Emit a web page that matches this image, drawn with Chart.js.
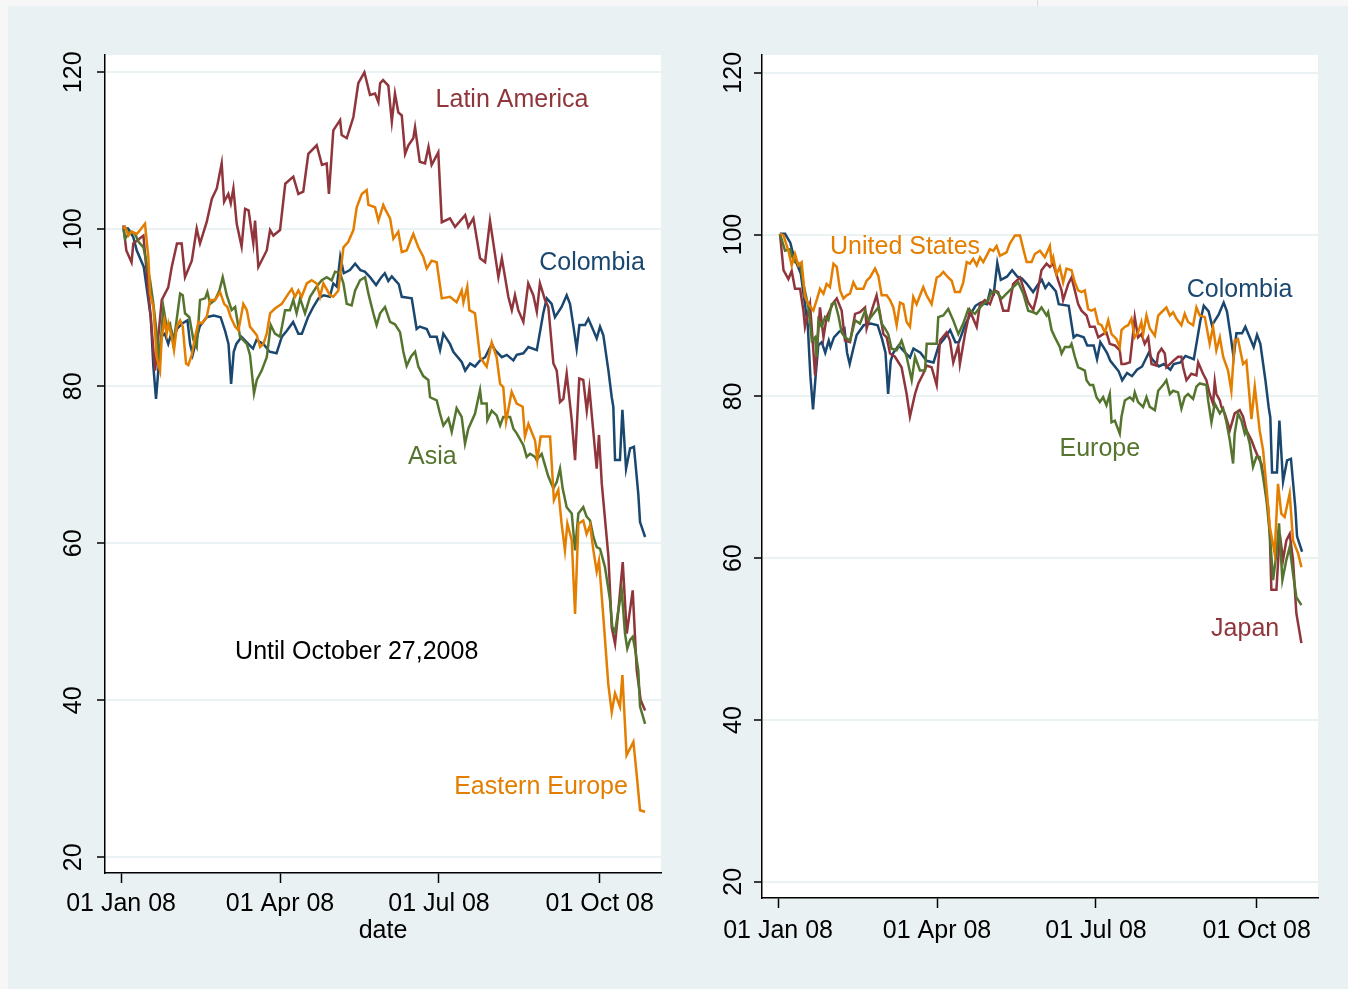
<!DOCTYPE html>
<html>
<head>
<meta charset="utf-8">
<script src="https://cdn.jsdelivr.net/npm/chart.js@4.4.0/dist/chart.umd.min.js"></script>
<style>
  body { margin: 0; background: #f7f7f7; overflow: hidden; }
  #bg { position: absolute; left: 8px; top: 6px; width: 1340px; height: 983px; background: #eaf1f3; }
  #seam { position: absolute; left: 1037px; top: 0; width: 1px; height: 6px; background: #dcdcdc; }
  .box { position: absolute; top: 0; height: 989px; }
  #leftBox { left: 0; width: 690px; }
  #rightBox { left: 690px; width: 658px; }
</style>
</head>
<body>
<div id="bg"></div>
<div id="seam"></div>
<div class="box" id="leftBox"><canvas id="leftChart"></canvas></div>
<div class="box" id="rightBox"><canvas id="rightChart"></canvas></div>
<script>
// days counted from 01 Jan 2008, index = 100 at the start of the year
const tickDays = [0, 91, 182, 274];
const tickLabels = ['01 Jan 08', '01 Apr 08', '01 Jul 08', '01 Oct 08'];
const yTicks = [20, 40, 60, 80, 100, 120];

const colombia = [
  [1,100.1],[4,100.1],[7,99.0],[9,97.3],[13,95.2],[17,88.8],[18.5,82.5],[20,78.4],[21.5,82.5],[23,86.3],
  [25,86.7],[27,85.4],[29,86.9],[30,86.1],[32,87.3],[35,88.0],[38,88.4],[39.5,85.4],[41,84.0],[42.5,85.4],
  [45,87.6],[49,88.8],[53,89.0],[57,88.8],[59.5,87.1],[61.5,85.4],[63,80.3],[64.5,84.4],[66,85.4],[69,86.3],
  [72,85.6],[75.5,84.8],[77.5,85.9],[81.5,85.4],[85,84.4],[89,84.2],[92,86.3],[95,87.1],[98.5,88.2],[101.5,86.7],
  [103.5,86.7],[107,88.8],[110,90.1],[113,91.2],[116,91.6],[119.5,91.4],[121.5,93.1],[123.5,92.7],[125.5,96.5],[127.5,94.4],
  [131,94.8],[134,95.6],[137,94.8],[139.5,94.6],[142.5,93.9],[146,92.9],[149,93.9],[151,94.4],[153,93.4],[155,94.0],
  [157,93.5],[159,93.0],[160.7,91.4],[166.4,91.2],[169.2,87.3],[171,87.6],[175,87.3],[177,86.3],[180.7,86.3],[182.6,84.6],
  [184.5,86.7],[188.3,85.4],[190.2,84.4],[195,83.1],[197,82.0],[199.8,82.9],[202.6,82.5],[205.5,83.3],[208.4,83.7],[212.2,85.4],
  [214.1,84.6],[218,83.7],[220.8,84.0],[224.6,83.3],[226.5,84.0],[230.3,84.2],[233.2,85.0],[238,84.6],[241.7,89.3],[243.7,91.2],
  [246.5,90.5],[248.4,88.8],[252.2,90.1],[255.1,91.6],[257,90.5],[259,87.6],[260.8,84.8],[262.4,87.8],[265.6,87.8],[267.5,88.6],
  [270.4,87.1],[272.3,86.1],[274.2,87.6],[276.1,86.5],[279,82.0],[280.9,78.6],[281.8,77.4],[282.8,70.6],[285.6,70.6],[287,77.0],
  [289.1,69.5],[291.4,72.1],[293.6,72.3],[296.1,66.3],[297.1,62.7],[300,60.8]
];

const latinAmerica = [
  [1.3,100.5],[3,97.3],[6,95.8],[7,98.2],[12.8,99.2],[16.6,89.7],[19.5,82],[23.3,91],[27,92.6],[29,95.2],
  [32,98.2],[34.7,98.2],[36.6,93.9],[40.5,96],[43.3,100.1],[45.2,98.2],[49,100.9],[52,103.9],[54.8,105.2],[57.6,108.4],
  [59,103.5],[61.4,104.5],[62.8,103.3],[64.3,105.2],[66.2,100.7],[69,97.8],[71,102.6],[73,102.4],[75.7,98.2],[76.7,101.1],
  [78.6,95.2],[83.4,97.3],[85.3,99.9],[87.2,99.2],[91,99.9],[94,105.8],[98.6,106.7],[101.5,104.5],[104.3,104.8],[107.2,109.6],
  [112,110.7],[115,108.2],[117.7,108.4],[119,104.5],[121.5,112.6],[125.4,113.9],[126.3,112],[129.2,111.6],[133,114.3],[135.8,118.6],
  [139.3,120],[142.5,117.1],[145.4,117.3],[147.3,116.2],[148.3,118.6],[150,119],[153,118.3],[155,113.7],[156.8,117.3],[158.7,114.9],
  [160.7,114.5],[162.6,109.6],[164.5,110.7],[167.3,111.6],[168.3,113],[171,108.6],[174,108.4],[176,110.5],[177.8,108.2],[181.6,109.8],
  [183.6,100.9],[188.3,101.4],[191.2,100.3],[197,101.8],[198.8,100.3],[201.7,101.4],[205.5,96.3],[208.4,95.8],[211.2,101.1],[216,93.9],
  [218,96.3],[221.7,91.4],[223.7,89.7],[225.5,91.6],[227.4,89.7],[230.3,88.2],[233.1,93.1],[236,91.6],[238,89.5],[239.8,93.1],
  [242.7,91],[244.6,90.1],[247.5,82.9],[249.4,82],[251.3,78],[253.2,78.4],[255.1,81.6],[258,75.7],[259.9,70.6],[262.3,81],
  [264.6,80.8],[266.6,76.9],[268.1,79.7],[272.3,69.5],[273.6,73.8],[275.2,67.6],[279,58.3],[280.9,49.3],[282.8,47.2],[284.7,51.5],
  [287.2,57.6],[289.5,48.5],[292.9,54],[295.2,43.8],[297.5,40],[300,38.7]
];

const asia = [
  [1.3,100.1],[2.3,98.8],[5.2,99.7],[8,99.4],[10,98.4],[12.8,97.7],[16.6,93.5],[18.5,90.5],[20.4,86.7],[22,83.3],
  [24.2,90.1],[26.1,87.6],[28,88],[30,85.4],[33.8,91.8],[35.3,91.6],[36.6,89.3],[39.1,88.8],[41.4,85.9],[43.3,85],
  [45.2,91],[48.1,91.2],[49.4,92],[51,90.5],[53.8,91],[56.3,92.2],[58.2,93.9],[60.5,91.6],[63.3,89.7],[65.3,90.1],
  [68.1,86.3],[72,85.4],[73.8,84],[76.1,79.1],[77.7,80.8],[80.5,82],[83.4,83.7],[85.7,87.8],[88.1,86.7],[91,86.3],
  [93.9,89.7],[96.7,89.7],[98.6,91],[100.5,89.3],[102.5,91.2],[105.3,89.3],[108.2,91.4],[112,92.7],[114.9,93.5],[117.7,93.9],
  [120.6,93.5],[122.5,94.6],[125.4,94.4],[127.3,93.1],[129.2,90.5],[132,90.3],[134,92.2],[136.8,93.5],[139.7,93.9],[141.6,91.8],
  [144.4,89.3],[146.3,87.8],[148.3,89.3],[151.1,90.1],[154,88.2],[156.8,87.9],[159.7,86.9],[161.6,84.4],[163.5,82.6],[166,83.8],
  [168.3,84.4],[170.2,82.5],[173,81.3],[175.9,80.8],[176.9,78.6],[180.7,78.2],[182.6,76.5],[184.5,75.0],[187.4,75.9],[189.3,74.2],
  [192.1,77.2],[195,76.1],[196.9,72.7],[198.8,74.6],[202.6,76.5],[205.5,79.5],[206.4,77.8],[209.3,77.8],[209.7,75.7],[212.2,76.9],
  [215,76.3],[217,75.0],[218.8,76.1],[222.7,76.1],[224.6,74.6],[226.5,74.0],[230.3,72.5],[232.2,71.0],[234.1,71.4],[237,71.0],
  [237.9,70.6],[240.8,71.4],[244.6,68.5],[247.5,67.0],[249.4,67.8],[251.3,69.5],[252.8,67.0],[255.1,64.6],[258,63.8],[259.9,59.1],
  [261.8,63.8],[264.6,64.6],[266.5,63.4],[268.5,62.9],[270.4,60.8],[272.3,59.5],[274.2,59.3],[277,57.0],[279.9,52.8],[281.2,49.4],
  [282.8,48.7],[284.7,51.5],[286.6,54.0],[288.5,48.5],[289.8,46.6],[291.4,47.7],[292.9,48.1],[294.2,46.6],[296.1,43.8],[297.1,39.2],
  [300,37.0]
];

const easternEurope = [
  [1.3,100.1],[2.3,100.3],[4.2,99.2],[6.1,99.7],[9,99.4],[10.9,99.9],[13.7,100.7],[15.6,96.5],[16.6,91.8],[18.5,90.1],
  [20.4,83.7],[22.3,82.0],[23.3,86.3],[24.8,88.4],[26.1,86.7],[27.1,88.0],[29,86.3],[30.3,84.6],[31.9,87.6],[33.8,88.4],
  [35.3,87.6],[37.2,82.9],[38.5,82.7],[40.5,84.0],[42.4,86.3],[44.3,88.2],[46.2,88.0],[49,88.8],[51,91.0],[53.8,91.0],
  [56.7,92.0],[59,90.5],[60.9,90.1],[62.8,88.8],[65.3,87.6],[67.2,87.1],[70,90.5],[72,89.7],[73.8,87.6],[77.7,86.5],
  [79.6,85.0],[81.5,85.4],[83.4,86.7],[85.3,89.3],[88.1,89.9],[92,90.5],[95.8,91.8],[97.7,92.4],[99.6,91.4],[101.5,92.2],
  [103.4,91.4],[106.3,93.1],[109.1,93.5],[112,93.1],[113.9,91.4],[115.8,93.1],[119.6,91.6],[121.5,91.4],[124.4,92.2],[127.3,97.7],
  [130.1,98.4],[133,99.9],[134.9,102.8],[137.8,104.5],[140.6,105.0],[141.6,103.1],[145.4,102.8],[147.3,101.1],[150.1,103.1],[151.1,102.6],
  [154,101.4],[155.9,98.8],[158.7,99.7],[160.7,97.1],[163.5,97.3],[167.3,99.4],[170.2,97.7],[173,96.5],[175,95.0],[177.8,96.0],
  [180.7,95.8],[183.6,91.2],[188.3,91.4],[192.1,90.7],[195,92.2],[196,90.7],[198.2,92.7],[199.4,89.7],[202.6,89.3],[205.5,83.7],
  [209.3,82.5],[212.2,85.6],[215,83.7],[217,80.3],[218.8,79.9],[220.4,75.5],[223.6,79.3],[226.5,77.8],[229.9,77.4],[231.2,73.6],
  [233.2,75.2],[237,73.1],[238.3,70.6],[240.2,73.6],[245.6,73.6],[247.8,65.5],[250.3,66.8],[252.2,62.5],[254.1,59.1],[255.5,62.5],
  [258,60.4],[259.9,51.0],[261.8,62.5],[264.6,62.9],[266.5,61.2],[268.5,62.3],[270.4,59.1],[272.3,56.4],[273.6,57.8],[276.1,50.6],
  [278.9,42.1],[280.9,38.5],[282.8,40.9],[285.6,39.2],[287,43.2],[289.4,33.0],[293.3,34.7],[295.2,30.5],[297.1,26.0],[300,25.8]
];

const japan = [
  [1.1,100.1],[3.1,95.6],[5.9,94.5],[7.8,95.5],[9.7,93.3],[12.6,93.3],[14.5,90.6],[15.4,88.6],[18.3,91.4],[21.2,82.6],
  [24,91.0],[26,87.3],[27.8,89.8],[31.7,91.6],[33.6,92.1],[36.4,90.6],[38.3,86.9],[41.2,86.7],[44.1,90.2],[46.9,90.4],
  [49.8,91.0],[50.7,88.4],[53.6,90.6],[56.4,92.5],[58.4,90.2],[60.3,87.7],[62.2,87.3],[64.1,85.3],[66.9,84.9],[70.7,83.6],
  [73.6,80.3],[75.5,77.5],[78.4,80.3],[80.3,81.6],[83.1,82.8],[85,83.8],[87.9,83.6],[90.8,81.4],[92.7,86.9],[96.5,87.9],
  [98.4,86.9],[100.3,84.2],[103.2,86.3],[104.1,84.0],[107,87.7],[109.8,90.6],[113.7,88.6],[115.6,91.4],[118.4,91.9],[121.3,91.4],
  [124.1,93.1],[126,92.9],[128.9,90.6],[131.8,90.6],[134.6,93.9],[138.5,94.7],[143.2,91.6],[146.1,90.7],[148,92.3],[150.8,95.6],
  [153.7,96.4],[155.6,96.0],[157.5,96.4],[160.4,94.3],[162.3,93.1],[163.2,91.9],[166.1,93.9],[168,94.7],[169.9,93.1],[171.8,91.4],
  [173.7,90.6],[176.6,90.0],[178.5,88.6],[181.3,88.6],[183.3,87.3],[186.1,87.7],[188,87.9],[189.9,86.5],[192.8,86.3],[195.6,85.7],
  [196.6,84.0],[198.5,84.0],[201.4,84.2],[203.3,87.9],[204.2,89.8],[206.1,87.3],[208,87.7],[209.9,86.5],[211.9,87.3],[213.8,84.0],
  [216.6,83.8],[217.6,85.3],[219.5,85.9],[221.4,85.3],[222.3,83.6],[224.3,84.0],[226.2,84.4],[229,84.9],[230.9,84.9],[231.9,83.6],
  [233.8,82.0],[236.6,82.8],[239.5,82.6],[240.5,84.2],[243.3,82.8],[245.2,82.0],[247.1,80.3],[249,79.1],[250,81.8],[250.9,80.3],
  [252.9,79.5],[253.8,78.7],[255.7,77.9],[257.6,76.6],[258.6,75.8],[261.4,77.9],[264.3,78.3],[266.2,77.5],[268.1,75.8],[271,74.6],
  [272.9,73.5],[274.8,72.5],[276.7,71.7],[278.6,69.2],[280.5,66.3],[281.5,63.0],[282.4,56.1],[285.3,56.1],[287.2,63.0],[289.1,59.8],
  [291,62.2],[292.9,63.0],[294.8,59.8],[296.7,53.2],[299.6,49.5]
];

const europe = [
  [1.1,100.1],[4,98.0],[6.9,98.2],[7.8,97.4],[9.7,96.6],[12.6,96.4],[14.5,93.9],[17.4,91.0],[19.3,86.9],[21.2,87.3],
  [22.1,84.9],[23.1,89.4],[25,88.6],[26.9,89.8],[28.8,89.4],[30.7,91.4],[32.6,91.6],[34.5,90.0],[36.4,87.9],[38.3,87.3],
  [41.2,86.9],[44.1,89.4],[46.9,89.0],[49.8,90.6],[51.7,89.4],[54.5,90.2],[57.4,91.0],[59.3,89.0],[61.2,88.4],[63.1,87.7],
  [65,85.9],[67.9,85.7],[70.7,86.9],[73.6,84.9],[76.5,82.0],[78.4,84.9],[81.2,83.2],[84.1,83.2],[85.1,86.5],[88.9,86.5],
  [90.8,86.5],[91.7,89.8],[94.6,90.0],[97.4,90.8],[100.3,89.4],[103.2,87.7],[106,89.0],[108.9,90.8],[112.7,90.2],[115.6,91.0],
  [117.5,91.4],[120.3,91.9],[122.2,92.9],[125.1,92.9],[128,92.1],[130.8,92.7],[134.6,93.5],[137.5,94.1],[140.4,92.7],[143.2,90.6],
  [146.1,90.4],[148,90.2],[150.8,91.0],[153.7,90.0],[154.6,90.4],[156.6,88.2],[158.5,87.3],[161.3,86.1],[162.3,85.3],[164.2,86.1],
  [167,86.1],[168,86.5],[169.9,84.9],[171.8,83.6],[173.7,83.4],[175.6,83.2],[176.6,82.0],[178.5,81.4],[180.4,81.4],[182.3,79.9],
  [184.2,79.3],[186.1,79.9],[188,78.9],[189.9,80.3],[190.9,76.8],[192.8,77.0],[195.6,75.4],[196.6,77.5],[198.5,79.5],[201.4,79.9],
  [203.3,79.5],[204.2,80.5],[206.1,79.3],[209,78.7],[210.9,79.9],[212.8,78.7],[215.7,78.3],[217.6,80.7],[220.4,81.4],[222.3,82.0],
  [224.3,80.3],[226.2,80.7],[229,80.5],[230.9,78.5],[232.8,79.9],[234.7,80.3],[237.6,79.7],[239.5,81.2],[241.4,81.6],[245.2,81.4],
  [246.2,79.5],[248.1,76.8],[250,79.1],[252.9,77.9],[254.8,78.5],[256.7,76.8],[258.6,74.6],[260.5,71.7],[261.4,75.4],[263.3,77.9],
  [265.3,77.0],[267.2,75.4],[268.1,75.8],[270,74.2],[271.9,71.3],[273.8,72.5],[275.7,72.5],[277.7,70.0],[279.6,67.2],[281.5,63.0],
  [283.4,57.3],[285.3,60.6],[286.8,64.3],[288.7,57.3],[291,59.8],[292.9,61.4],[294.8,58.1],[296.7,55.2],[299.6,54.2]
];

const unitedStates = [
  [1.1,100.1],[3.1,99.9],[5.9,98.0],[7.8,96.2],[9.7,97.6],[11.6,96.2],[13.5,96.6],[15.4,92.3],[17.4,91.4],[20.2,90.6],
  [22.1,91.9],[24,93.3],[26,92.7],[27.8,93.9],[29.7,93.5],[31.7,96.4],[33.6,96.0],[35.5,93.1],[37.4,92.1],[39.3,92.5],
  [41.2,92.7],[43.1,94.1],[45,93.3],[48.8,93.3],[50.7,94.3],[52.6,94.7],[55.5,95.8],[57.4,94.9],[59.3,92.5],[62.2,92.5],
  [64.1,91.9],[66,91.0],[67.9,88.8],[69.8,91.6],[71.7,91.4],[73.6,89.2],[75.5,88.6],[77.4,92.3],[79.3,91.4],[83.1,93.5],
  [85,92.5],[87.9,91.4],[90.8,94.7],[92.7,94.9],[94.6,95.4],[97.4,94.7],[99.4,94.3],[101.3,92.9],[104.1,92.9],[106,94.1],
  [108,96.6],[109.8,96.4],[111.7,97.0],[113.7,96.2],[115.6,97.2],[117.5,96.6],[121.3,98.2],[123.2,98.0],[125.1,98.6],[127,97.4],
  [128.9,97.6],[130.8,97.8],[132.7,98.9],[135.6,99.9],[138.5,99.9],[140.4,98.2],[142.3,96.6],[145.1,96.6],[147,97.6],[149.9,98.0],
  [152.7,97.2],[155.6,98.6],[156.6,96.6],[157.5,97.2],[159.4,95.1],[161.3,96.0],[163.2,94.1],[165.1,95.8],[168,95.6],[169.9,94.1],
  [171.8,93.1],[173.7,92.9],[175.6,93.1],[177.5,90.8],[179.4,90.6],[181.3,90.8],[183.3,89.0],[185.2,88.8],[187.1,87.9],[189,89.4],
  [190.9,87.7],[193.7,87.1],[195.6,86.1],[196.6,88.2],[198.5,88.6],[200.4,88.8],[202.3,89.6],[204.2,87.3],[206.1,87.9],[208,89.2],
  [209,87.7],[210.9,90.0],[212.8,88.4],[215.7,87.5],[217.6,90.0],[219.5,90.4],[222.3,91.0],[224.3,90.0],[226.2,90.4],[228.1,89.6],
  [230.9,88.8],[232.8,90.2],[234.7,89.2],[237.6,88.8],[239.5,91.0],[241.4,90.0],[244.3,89.8],[247.1,86.5],[249,88.6],[250.9,85.7],
  [252.9,87.3],[254.8,84.9],[257.6,83.2],[259.5,80.7],[261.4,86.9],[263.3,87.1],[266.2,84.0],[268.1,84.4],[271,77.2],[272.9,81.2],
  [275.7,75.8],[277.7,73.3],[279.6,68.8],[281.5,63.9],[284.3,60.6],[286.2,69.2],[288.1,65.5],[290,65.1],[292.9,68.0],[294.8,62.2],
  [297.7,60.6],[299.6,58.9]
];

// text placed inside each panel, at [day, index]
const leftNotes = [
  { text: 'Latin America', at: [223.8, 116.4], color: '#90353b' },
  { text: 'Colombia', at: [269.6, 95.7], color: '#1a476f' },
  { text: 'Asia', at: [178.2, 71.0], color: '#55752f' },
  { text: 'Eastern Europe', at: [240.4, 29.0], color: '#e37e00' },
  { text: 'Until October 27,2008', at: [134.9, 46.2], color: '#000000' }
];
const rightNotes = [
  { text: 'United States', at: [72.7, 98.5], color: '#e37e00' },
  { text: 'Colombia', at: [264.2, 93.2], color: '#1a476f' },
  { text: 'Europe', at: [184.2, 73.5], color: '#55752f' },
  { text: 'Japan', at: [267.4, 51.2], color: '#90353b' }
];

const FONT = '"Liberation Sans", Arial, sans-serif';

const panelPlugin = {
  id: 'panel',
  beforeDraw(chart) {
    const a = chart.chartArea, ctx = chart.ctx;
    ctx.save();
    ctx.fillStyle = '#ffffff';
    ctx.fillRect(a.left, a.top, a.right - a.left, a.bottom - a.top);
    ctx.restore();
  },
  afterDraw(chart, args, opts) {
    const ctx = chart.ctx, xs = chart.scales.x, ys = chart.scales.y;
    ctx.save();
    ctx.font = '25px ' + FONT;
    ctx.textAlign = 'center';
    ctx.textBaseline = 'middle';
    // y labels read upwards, like the x labels turned on their side
    ctx.fillStyle = '#000';
    ys.ticks.forEach(t => {
      ctx.save();
      ctx.translate(ys.right - opts.yLabelGap, ys.getPixelForValue(t.value));
      ctx.rotate(-Math.PI / 2);
      ctx.fillText(String(t.value), 0, 1);
      ctx.restore();
    });
    opts.notes.forEach(n => {
      ctx.fillStyle = n.color;
      ctx.fillText(n.text, xs.getPixelForValue(n.at[0]), ys.getPixelForValue(n.at[1]));
    });
    ctx.restore();
  }
};

function line(label, pts, color) {
  return {
    label: label,
    data: pts.map(p => ({ x: p[0], y: p[1] })),
    borderColor: color,
    borderWidth: 2.5,
    pointRadius: 0,
    tension: 0,
    fill: false
  };
}

function makePanel(id, datasets, notes, geo) {
  return new Chart(document.getElementById(id), {
    type: 'line',
    data: { datasets: datasets },
    plugins: [panelPlugin],
    options: {
      responsive: true,
      maintainAspectRatio: false,
      animation: false,
      layout: { padding: { left: 0, right: geo.right, top: 55, bottom: 0 } },
      plugins: {
        legend: { display: false },
        tooltip: { enabled: false },
        panel: { notes: notes, yLabelGap: geo.yGap }
      },
      scales: {
        x: {
          type: 'linear',
          min: -9.2,
          max: 309.1,
          afterBuildTicks: s => { s.ticks = tickDays.map(v => ({ value: v })); },
          afterFit: s => { s.height = geo.xHeight; },
          ticks: {
            autoSkip: false,
            maxRotation: 0,
            padding: geo.xPad,
            color: '#000',
            font: { family: FONT, size: 25 },
            callback: v => tickLabels[tickDays.indexOf(v)]
          },
          grid: { drawOnChartArea: false, drawTicks: true, tickLength: 10, tickColor: '#000', tickWidth: 1.5 },
          border: { display: true, color: '#000', width: 1.5 },
          title: {
            display: geo.xTitle !== '',
            text: geo.xTitle,
            color: '#000',
            font: { family: FONT, size: 25 },
            padding: { top: 0, bottom: 43 }
          }
        },
        y: {
          type: 'linear',
          min: 18.0,
          max: 122.2,
          afterBuildTicks: s => { s.ticks = yTicks.map(v => ({ value: v })); },
          afterFit: s => { s.width = geo.yWidth; },
          ticks: { display: false },
          grid: { color: '#eaf2f3', lineWidth: 2, drawTicks: true, tickLength: 8, tickColor: '#000', tickWidth: 1.5 },
          border: { display: true, color: '#000', width: 1.5 }
        }
      }
    }
  });
}

makePanel('leftChart', [
  line('Colombia', colombia, '#1a476f'),
  line('Latin America', latinAmerica, '#90353b'),
  line('Asia', asia, '#55752f'),
  line('Eastern Europe', easternEurope, '#e37e00')
].reverse(), leftNotes, { right: 29, yWidth: 105, xHeight: 116, yGap: 32, xPad: 6, xTitle: 'date' });

makePanel('rightChart', [
  line('Colombia', colombia, '#1a476f'),
  line('Japan', japan, '#90353b'),
  line('Europe', europe, '#55752f'),
  line('United States', unitedStates, '#e37e00')
].reverse(), rightNotes, { right: 30, yWidth: 72, xHeight: 91, yGap: 29, xPad: 8, xTitle: '' });
</script>
</body>
</html>
